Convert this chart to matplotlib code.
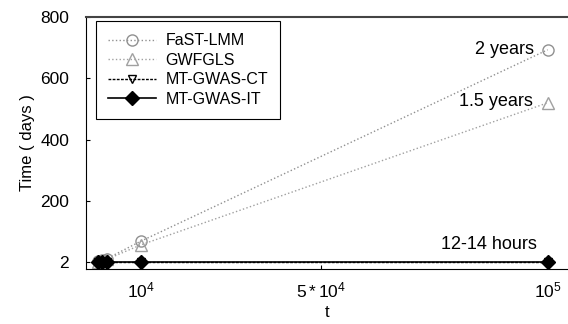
import matplotlib
matplotlib.use("Agg")
import matplotlib.pyplot as plt
from matplotlib.ticker import FixedLocator

plt.rcParams['font.family'] = ['Liberation Sans', 'DejaVu Sans']
plt.rcParams['mathtext.fontset'] = 'custom'
plt.rcParams['mathtext.rm'] = 'Liberation Sans'
plt.rcParams['mathtext.it'] = 'Liberation Sans'

# sample sizes and run times (days)
t = [500, 1500, 2500, 10000, 100000]
fast_lmm = [3, 7, 11, 68, 693]
gwfgls = [2, 5, 9, 56, 520]
mt_ct = [0.5, 0.5, 0.5, 0.5, 0.5]
mt_it = [0.5, 0.5, 0.5, 0.5, 0.5]

xticks = [10000, 50000, 100000]
xtick_labels = ['$\\mathrm{10^4}$', '$\\mathrm{5 * 10^4}$', '$\\mathrm{10^5}$']
yticks = [2, 200, 400, 600, 800]

fig = plt.figure(figsize=(5.68, 3.24), dpi=100)
ax = fig.add_axes([0.151, 0.17, 0.849, 0.7775])

ax.plot(t, fast_lmm, ls=':', color='#909090', lw=1, marker='o', ms=8,
        mfc='none', mec='#909090', label='FaST-LMM')
ax.plot(t, gwfgls, ls=':', color='#a0a0a0', lw=1, marker='^', ms=8,
        mfc='none', mec='#a0a0a0', label='GWFGLS')
ax.plot(t, mt_ct, ls='--', color='black', lw=1, dashes=(2, 1), marker='v',
        ms=6, mfc='none', mec='black', label='MT-GWAS-CT')
ax.plot(t, mt_it, ls='-', color='black', lw=1.2, marker='D', ms=7,
        mfc='black', mec='black', label='MT-GWAS-IT')

ax.set_xlim(-2100, 104500)
ax.set_ylim(-22, 800)
ax.xaxis.set_major_locator(FixedLocator(xticks))
ax.set_xticklabels(xtick_labels)
ax.set_yticks(yticks)
ax.tick_params(direction='in', length=3, labelsize=12.5)
ax.tick_params(axis='y', pad=12)
ax.tick_params(axis='x', pad=8)
ax.spines['right'].set_visible(False)
ax.spines['top'].set_color('#444444')
ax.spines['top'].set_linewidth(1.5)

ax.text(90500, 693, '2 years', fontsize=13, ha='center', va='center')
ax.text(88500, 523, '1.5 years', fontsize=13, ha='center', va='center')
ax.text(87000, 57, '12-14 hours', fontsize=13, ha='center', va='center')

ax.set_xlabel('t', fontsize=12, labelpad=4)
ax.set_ylabel('Time ( days )', fontsize=12, labelpad=4)

leg = ax.legend(loc='upper left', bbox_to_anchor=(0.015, 0.995), fontsize=11.5,
                fancybox=False, edgecolor='black', framealpha=1,
                handlelength=3.0, handletextpad=0.6, labelspacing=0.28,
                borderpad=0.75, borderaxespad=0.2)
leg.get_frame().set_linewidth(0.8)

fig.savefig('out.png', dpi=100)
